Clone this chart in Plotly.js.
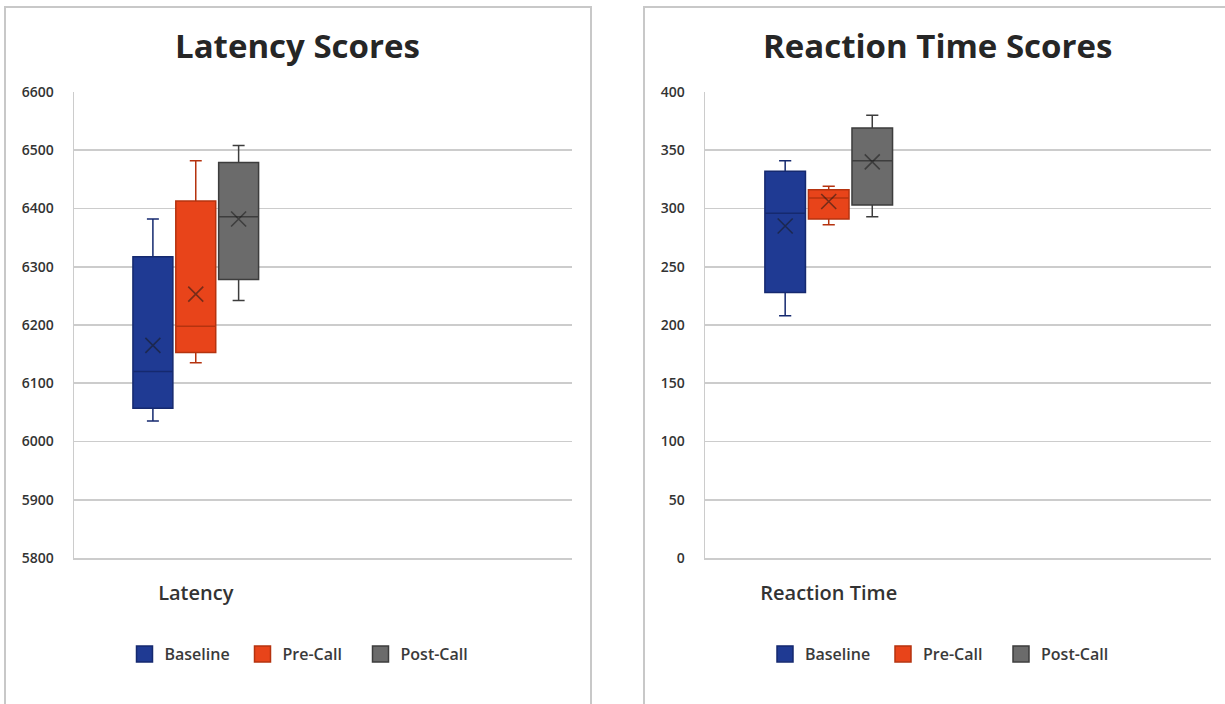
<!DOCTYPE html>
<html>
<head>
<meta charset="utf-8">
<script src="https://cdn.plot.ly/plotly-3.0.1.min.js"></script>
<style>
  html, body { margin: 0; padding: 0; background: #ffffff; }
  #chart { width: 1225px; height: 704px; }
</style>
</head>
<body>
<div id="chart"></div>
<script>
// ---- Data ----
const groups = ['Baseline', 'Pre-Call', 'Post-Call'];

// Latency Scores
const latencyLabel = 'Latency';
const latMin    = [6035, 6135, 6242];
const latQ1     = [6057, 6153, 6278];
const latMedian = [6120, 6198, 6386];
const latQ3     = [6317, 6413, 6479];
const latMax    = [6382, 6482, 6508];
const latMean   = [6165, 6253, 6382];

// Reaction Time Scores
const reactionLabel = 'Reaction Time';
const rtMin    = [208, 286, 293];
const rtQ1     = [228, 291, 303];
const rtMedian = [296, 309, 341];
const rtQ3     = [332, 316, 369];
const rtMax    = [341, 319, 380];
const rtMean   = [285, 306, 340];

// ---- Styles ----
const fills = ['#1f3a93', '#e8441a', '#6b6b6b'];
const edges = ['#15296f', '#b5330f', '#3d3d3d'];
const W = 1225, H = 704;
const px = v => v / W;
const py = v => 1 - v / H;
const FONT = 'Open Sans, Lato, sans-serif';
const step = 0.176, boxW = 0.164;

const traces = [];
function addPanel(xa, ya, legendId, label, mn, q1, med, q3, mx, mean) {
  groups.forEach((g, i) => {
    const pos = (i - 1) * step;
    traces.push({
      type: 'box', name: g, xaxis: xa, yaxis: ya,
      x: [pos], q1: [q1[i]], median: [med[i]], q3: [q3[i]],
      lowerfence: [mn[i]], upperfence: [mx[i]],
      width: boxW, whiskerwidth: 0.3,
      fillcolor: fills[i], line: { color: edges[i], width: 1.5 },
      showlegend: false, hoverinfo: 'y'
    });
    traces.push({
      type: 'scatter', mode: 'markers', name: g + ' mean', xaxis: xa, yaxis: ya,
      x: [pos], y: [mean[i]],
      marker: { symbol: 'x-thin-open', size: 15, color: 'rgba(25,25,25,0.55)',
                line: { width: 1.6, color: 'rgba(25,25,25,0.55)' } },
      showlegend: false, hoverinfo: 'y'
    });
    traces.push({
      type: 'scatter', mode: 'markers', name: g, xaxis: xa, yaxis: ya,
      x: [null], y: [null], legend: legendId,
      marker: { symbol: 'square', size: 16, color: fills[i], line: { color: edges[i], width: 1.5 } },
      showlegend: true, hoverinfo: 'skip'
    });
  });
}
addPanel('x', 'y', 'legend', latencyLabel, latMin, latQ1, latMedian, latQ3, latMax, latMean);
addPanel('x2', 'y2', 'legend2', reactionLabel, rtMin, rtQ1, rtMedian, rtQ3, rtMax, rtMean);

const gridColor = '#cccccc';
function xAxis(domain, label) {
  return {
    domain: domain, range: [-0.5, 1.545], fixedrange: true,
    tickvals: [0], ticktext: [label],
    ticks: 'outside', ticklen: 16, tickcolor: 'rgba(0,0,0,0)',
    tickfont: { family: FONT, size: 20, color: '#333333', weight: 600 },
    showgrid: false, zeroline: false,
    showline: true, linecolor: gridColor, linewidth: 1.5
  };
}
function yAxis(anchor, range, dtick) {
  return {
    anchor: anchor,
    domain: [py(558), py(92)], range: range, dtick: dtick, fixedrange: true,
    ticks: 'outside', ticklen: 16, tickcolor: 'rgba(0,0,0,0)',
    tickfont: { family: FONT, size: 14, color: '#333333', weight: 600 },
    showgrid: true, gridcolor: gridColor, gridwidth: 1.8,
    zeroline: false, showline: true, linecolor: gridColor, linewidth: 1.5
  };
}

const legendStyle = (x) => ({
  orientation: 'h', x: x, xanchor: 'left', y: py(654), yanchor: 'middle',
  entrywidth: 73, entrywidthmode: 'pixels',
  font: { family: FONT, size: 16, color: '#3a3a3a', weight: 600 },
  bgcolor: 'rgba(0,0,0,0)', itemclick: false, itemdoubleclick: false
});

const layout = {
  width: W, height: H,
  margin: { l: 0, r: 0, t: 0, b: 0 },
  paper_bgcolor: '#ffffff', plot_bgcolor: '#ffffff',
  showlegend: true,
  xaxis: Object.assign(xAxis([px(74), px(572)], latencyLabel), { anchor: 'y' }),
  yaxis: yAxis('x', [5800, 6600], 100),
  xaxis2: Object.assign(xAxis([px(705), px(1211)], reactionLabel), { anchor: 'y2' }),
  yaxis2: yAxis('x2', [0, 400], 50),
  legend: legendStyle(px(124.5)),
  legend2: legendStyle(px(765)),
  annotations: [
    { text: '<b>Latency Scores</b>', xref: 'paper', yref: 'paper', x: px(297), y: py(46),
      xanchor: 'center', yanchor: 'middle', showarrow: false,
      font: { family: FONT, size: 33, color: '#262626' } },
    { text: '<b>Reaction Time Scores</b>', xref: 'paper', yref: 'paper', x: px(937), y: py(46),
      xanchor: 'center', yanchor: 'middle', showarrow: false,
      font: { family: FONT, size: 33, color: '#262626' } }
  ],
  shapes: [
    { type: 'rect', xref: 'paper', yref: 'paper', x0: px(5), x1: px(591), y0: -0.05, y1: py(7),
      line: { color: '#c8c8c8', width: 2 }, fillcolor: 'rgba(0,0,0,0)', layer: 'below' },
    { type: 'rect', xref: 'paper', yref: 'paper', x0: px(644), x1: 1.05, y0: -0.05, y1: py(7),
      line: { color: '#c8c8c8', width: 2 }, fillcolor: 'rgba(0,0,0,0)', layer: 'below' }
  ]
};

Plotly.newPlot('chart', traces, layout, { staticPlot: true, displayModeBar: false });
</script>
</body>
</html>
